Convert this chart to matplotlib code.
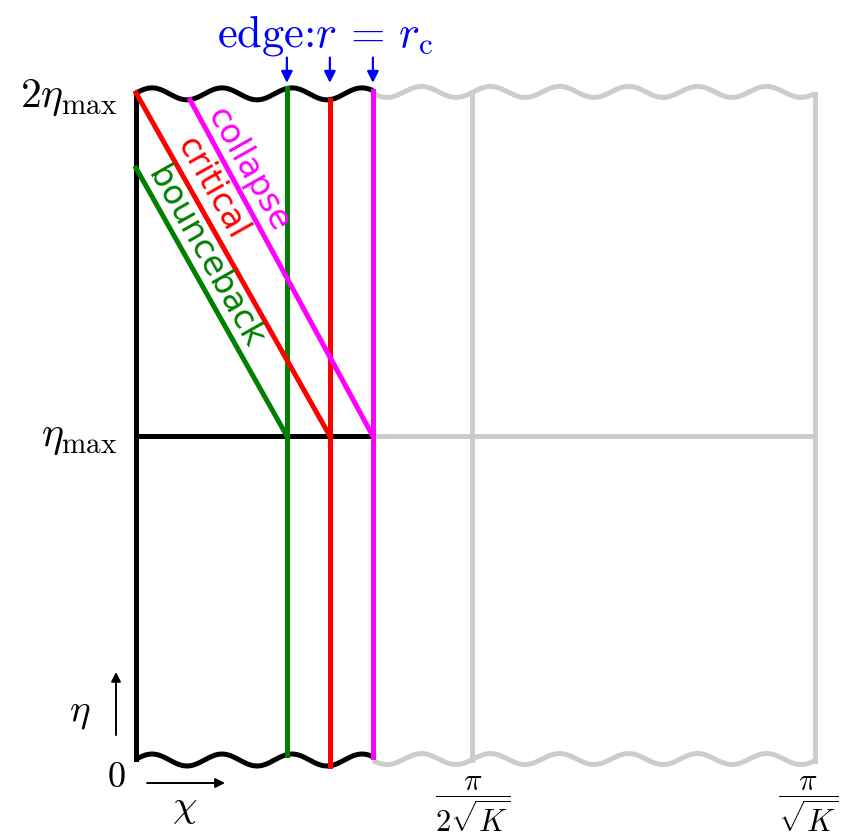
import numpy as np
import matplotlib
matplotlib.use("Agg")
import matplotlib.pyplot as plt

plt.rcParams['mathtext.fontset'] = 'cm'

# diagram values (chi in units of pi/(2 sqrt K), eta in units of eta_max)
eta_max = 1.0
eta_top = 2.056
chi_half = 1.0          # pi / (2 sqrt K)
chi_full = 2.02         # pi / sqrt K
edge_names = ['bounceback', 'critical', 'collapse']
edge_colors = ['green', 'red', 'magenta']
edge_chi = [0.449, 0.577, 0.705]
ray_start_chi = [0.0, 0.0, 0.161]
ray_start_eta = [1.827, 2.059, 2.037]
label_chi = [0.206, 0.225, 0.333]
label_eta = [1.552, 1.766, 1.822]
ytick_pos = [2.046, 1.0]
ytick_labels = [r'$2\eta_{\max}$', r'$\eta_{\max}$']
xtick_pos = [1.003, 2.0]
xtick_labels = [r'$\dfrac{\pi}{2\sqrt{K}}$', r'$\dfrac{\pi}{\sqrt{K}}$']

# wavy cut lines (black part and grey part)
black_period, black_low, black_amp = 0.2083, 0.1518, 0.0185
grey_period, grey_low, grey_amp = 0.2054, 0.747, 0.017


def wave(chi, center, period, low, amp):
    return center - amp * np.cos(2 * np.pi * (chi - low) / period)


def top_black(c):
    return wave(c, eta_top, black_period, black_low, black_amp)


def bot_black(c):
    return wave(c, 0.0, black_period, black_low, black_amp)


def top_grey(c):
    return wave(c, eta_top + 0.006, grey_period, grey_low, grey_amp)


def bot_grey(c):
    return wave(c, 0.003, grey_period, grey_low, grey_amp)


fig = plt.figure(figsize=(8.46, 8.34), dpi=100)
ax = fig.add_axes([0, 0, 1, 1])
ax.set_xlim(-136 / 336, 710 / 336)
ax.set_ylim(-74 / 324, 760 / 324)
ax.axis('off')

lw = 3.6
grey = '#cccccc'

# grey continuation
cg = np.linspace(edge_chi[2], chi_full, 400)
ax.plot(cg, top_grey(cg), color=grey, lw=lw, solid_capstyle='butt')
ax.plot(cg, bot_grey(cg), color=grey, lw=lw, solid_capstyle='butt')
ax.plot([edge_chi[2], chi_full], [eta_max, eta_max], color=grey, lw=lw)
for c in [chi_half, chi_full]:
    ax.plot([c, c], [bot_grey(c), top_grey(c)], color=grey, lw=lw)

# black region
cb = np.linspace(0, edge_chi[2], 300)
ax.plot(cb, top_black(cb), color='black', lw=lw, solid_capstyle='butt')
ax.plot(cb, bot_black(cb), color='black', lw=lw, solid_capstyle='butt')
ax.plot([0, 0], [bot_black(0), top_black(0)], color='black', lw=lw)
ax.plot([0, edge_chi[2]], [eta_max, eta_max], color='black', lw=lw)

# edges and light rays
for name, col, c, c0, e0, lc, le in zip(edge_names, edge_colors, edge_chi,
                                        ray_start_chi, ray_start_eta,
                                        label_chi, label_eta):
    ax.plot([c, c], [bot_black(c), top_black(c)], color=col, lw=lw)
    ax.plot([c0, c], [e0, eta_max], color=col, lw=lw)
    ax.text(lc, le, name, color=col, fontsize=24, rotation=-60.5,
            ha='center', va='center', rotation_mode='anchor')
    ax.annotate('', xy=(c, 2.09), xytext=(c, 2.168),
                arrowprops=dict(arrowstyle='-|>', color='blue', lw=1.6,
                                mutation_scale=17, shrinkA=0, shrinkB=0))

ax.text(0.565, 2.235, r'edge:$r\,=\,r_{\mathrm{c}}$', color='blue',
        fontsize=32, ha='center', va='center', family='cmr10')

# tick labels
for p, t in zip(ytick_pos, ytick_labels):
    ax.text(-0.054, p, t, fontsize=30, ha='right', va='center')
ax.text(-0.0595, -0.052, r'$0$', fontsize=26, ha='center', va='center')
for p, t in zip(xtick_pos, xtick_labels):
    ax.text(p, -0.138, t, fontsize=22, ha='center', va='center')

# axis arrows
ax.annotate('', xy=(-0.0595, 0.272), xytext=(-0.0595, 0.077),
            arrowprops=dict(arrowstyle='-|>', color='black', lw=1.4,
                            mutation_scale=14, shrinkA=0, shrinkB=0))
ax.text(-0.167, 0.148, r'$\eta$', fontsize=28, ha='center', va='center')
ax.annotate('', xy=(0.265, -0.071), xytext=(0.033, -0.071),
            arrowprops=dict(arrowstyle='-|>', color='black', lw=1.4,
                            mutation_scale=14, shrinkA=0, shrinkB=0))
ax.text(0.146, -0.145, r'$\chi$', fontsize=28, ha='center', va='center')

fig.savefig('out.png', dpi=100)
